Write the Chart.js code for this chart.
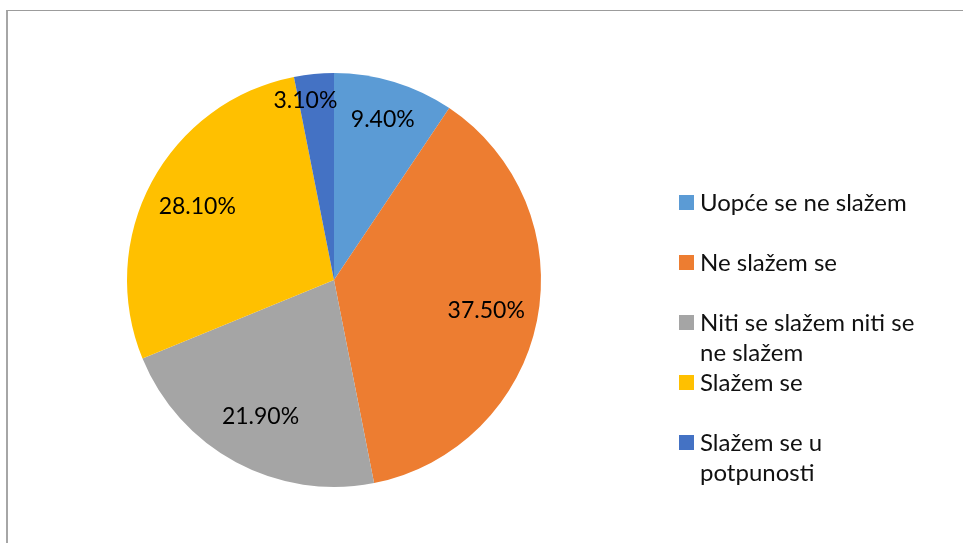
<!DOCTYPE html>
<html lang="hr">
<head>
  <meta charset="UTF-8" />
  <title>Pie chart</title>
  <script src="https://cdn.jsdelivr.net/npm/chart.js"></script>
  <style>
    html, body { margin: 0; padding: 0; background: #fff; }
    #wrap { position: relative; width: 963px; height: 543px; overflow: hidden; font-family: Lato, "Noto Sans", sans-serif; }
    #frame { position: absolute; left: 6px; top: 10px; width: 970px; height: 560px; border-top: 1px solid #9c9c9c; border-left: 2px solid #a6a6a6; }
    #chart { position: absolute; left: 0; top: 0; }
    .leg { position: absolute; left: 679px; width: 280px; font-size: 24px; line-height: 30px; color: #111; }
    .leg .box { position: absolute; left: 0; top: 8px; width: 15px; height: 15px; }
    .leg .txt { margin-left: 21px; }
  </style>
</head>
<body>
  <div id="wrap">
    <div id="frame"></div>
    <canvas id="chart" width="963" height="543"></canvas>
    <div id="legend"></div>
  </div>

  <script>
    // data
    const categories = ['Uopće se ne slažem', 'Ne slažem se', 'Niti se slažem niti se ne slažem', 'Slažem se', 'Slažem se u potpunosti'];
    const legendLines = [['Uopće se ne slažem'], ['Ne slažem se'], ['Niti se slažem niti se', 'ne slažem'], ['Slažem se'], ['Slažem se u', 'potpunosti']];
    const values = [9.4, 37.5, 21.9, 28.1, 3.1];
    const colors = ['#5B9BD5', '#ED7D31', '#A5A5A5', '#FFC000', '#4472C4'];

    // percentage labels inside slices, smaller slices pushed further out
    const sliceLabels = {
      id: 'sliceLabels',
      afterDatasetsDraw(chart) {
        const ctx = chart.ctx;
        const meta = chart.getDatasetMeta(0);
        ctx.save();
        ctx.font = '23px Lato, "Noto Sans", sans-serif';
        ctx.fillStyle = '#000';
        ctx.textAlign = 'center';
        ctx.textBaseline = 'middle';
        meta.data.forEach((arc, i) => {
          const span = arc.endAngle - arc.startAngle;
          let mid = (arc.startAngle + arc.endAngle) / 2;
          let f = 0.75;
          if (span < 0.26) { f = 0.88; mid -= 0.06; }
          else if (span < 0.7) f = 0.81;
          const r = arc.outerRadius * f;
          const x = arc.x + Math.cos(mid) * r;
          const y = arc.y + Math.sin(mid) * r;
          ctx.fillText(values[i].toFixed(2) + '%', x, y);
        });
        ctx.restore();
      }
    };

    new Chart(document.getElementById('chart'), {
      type: 'pie',
      data: {
        labels: categories,
        datasets: [{
          data: values,
          backgroundColor: colors,
          borderWidth: 0
        }]
      },
      options: {
        responsive: false,
        animation: false,
        layout: { padding: { left: 127, top: 73, right: 422, bottom: 56 } },
        plugins: {
          legend: { display: false },
          tooltip: { enabled: false }
        }
      },
      plugins: [sliceLabels]
    });

    const legendEl = document.getElementById('legend');
    legendLines.forEach((lines, i) => {
      const item = document.createElement('div');
      item.className = 'leg';
      item.style.top = (187 + i * 60) + 'px';
      item.innerHTML = `<span class="box" style="background:${colors[i]}"></span><div class="txt">${lines.join('<br>')}</div>`;
      legendEl.appendChild(item);
    });
  </script>
</body>
</html>
